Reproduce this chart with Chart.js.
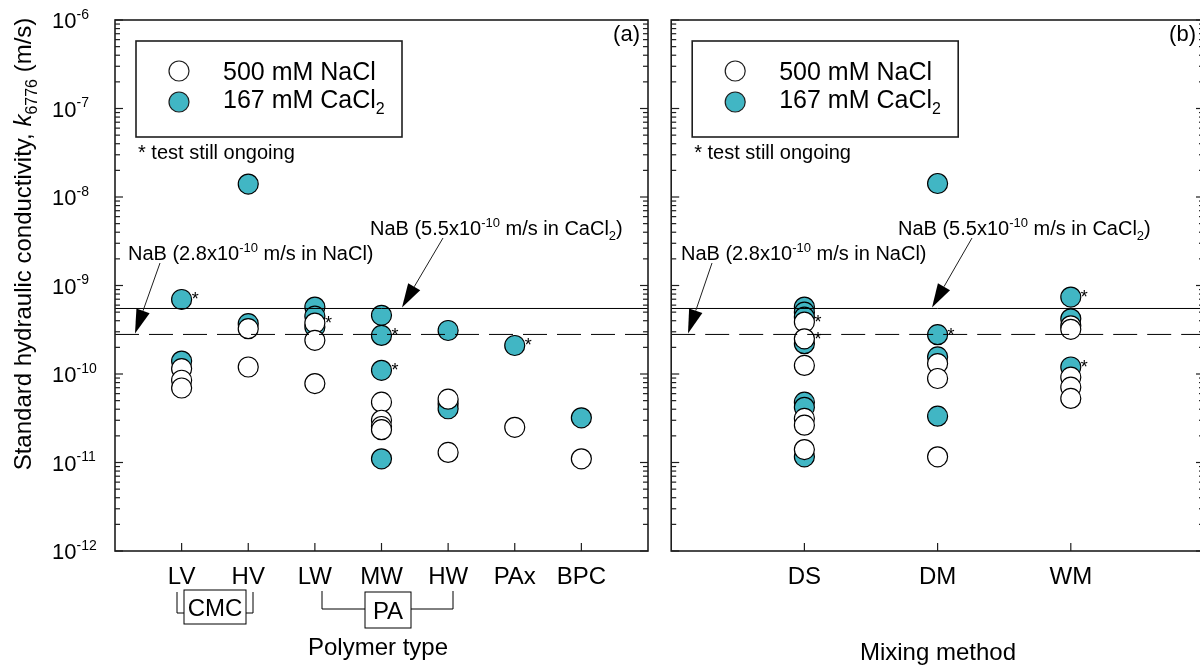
<!DOCTYPE html>
<html lang="en">
<head>
<meta charset="UTF-8">
<title>Standard hydraulic conductivity</title>
<script src="https://cdn.jsdelivr.net/npm/chart.js@4"></script>
<style>
  html, body { margin: 0; padding: 0; background: #fff; width: 1200px; height: 668px; overflow: hidden; }
  canvas { position: absolute; top: 0; }
  #chartA { left: 0; }
  #chartB { left: 660px; }
</style>
</head>
<body>
<canvas id="chartA" width="660" height="668"></canvas>
<canvas id="chartB" width="560" height="668"></canvas>
<script>
// categories
const polymerTypes = ['LV', 'HV', 'LW', 'MW', 'HW', 'PAx', 'BPC'];
const mixingMethods = ['DS', 'DM', 'WM'];

// k6776 in m/s, one list per category
const naclPolymer = [
  [1.15e-10, 8.5e-11, 6.95e-11],
  [3.25e-10, 1.2e-10],
  [3.76e-10, 2.4e-10, 7.8e-11],
  [4.8e-11, 3.0e-11, 2.55e-11, 2.35e-11],
  [5.2e-11, 1.3e-11],
  [2.5e-11],
  [1.1e-11]
];
const caclPolymer = [
  [6.95e-10, 1.4e-10],
  [1.4e-8, 3.7e-10],
  [5.7e-10, 4.5e-10, 3.4e-10],
  [4.6e-10, 2.73e-10, 1.1e-10, 1.1e-11],
  [3.1e-10, 4.6e-11, 4.05e-11],
  [2.1e-10],
  [3.2e-11]
];
const naclMixing = [
  [3.86e-10, 2.5e-10, 1.25e-10, 3.15e-11, 2.64e-11, 1.4e-11],
  [1.31e-10, 8.9e-11, 1.16e-11],
  [3.5e-10, 3.2e-10, 9.2e-11, 7.1e-11, 5.3e-11]
];
const caclMixing = [
  [5.7e-10, 5.0e-10, 4.4e-10, 2.2e-10, 4.8e-11, 4.2e-11, 1.16e-11],
  [1.42e-8, 2.78e-10, 1.56e-10, 3.34e-11],
  [7.4e-10, 4.2e-10, 1.2e-10]
];

// "test still ongoing" markers: [category index, value]
const ongoingPolymer = [[0, 6.95e-10], [2, 3.76e-10], [3, 2.73e-10], [3, 1.1e-10], [5, 2.1e-10]];
const ongoingMixing = [[0, 3.86e-10], [0, 2.5e-10], [1, 2.78e-10], [2, 7.4e-10], [2, 1.2e-10]];

// reference NaB values
const nabNaCl = 2.8e-10;
const nabCaCl2 = 5.5e-10;

const yExponents = [-6, -7, -8, -9, -10, -11, -12];

const CYAN = '#41b6c4';
const FONT = '"Liberation Sans", Arial, Helvetica, sans-serif';

function toPoints(lists) {
  const pts = [];
  lists.forEach((vals, i) => vals.forEach(v => pts.push({ x: i, y: v })));
  return pts;
}

// draw text made of parts [text, mode]; mode '' | 'sup' | 'sub' | 'it'
function richText(ctx, parts, x, y, size, align) {
  const small = Math.round(size * 0.65);
  const fontFor = m => (m === 'sup' || m === 'sub') ? small + 'px ' + FONT
    : (m === 'it' ? 'italic ' + size + 'px ' + FONT : size + 'px ' + FONT);
  let w = 0;
  parts.forEach(([t, m]) => { ctx.font = fontFor(m); w += ctx.measureText(t).width; });
  let cx = align === 'center' ? x - w / 2 : (align === 'right' ? x - w : x);
  ctx.textAlign = 'left';
  ctx.textBaseline = 'alphabetic';
  parts.forEach(([t, m]) => {
    ctx.font = fontFor(m);
    const dy = m === 'sup' ? -size * 0.42 : (m === 'sub' ? size * 0.25 : 0);
    ctx.fillText(t, cx, y + dy);
    cx += ctx.measureText(t).width;
  });
}

function seg(ctx, x1, y1, x2, y2) {
  ctx.beginPath(); ctx.moveTo(x1, y1); ctx.lineTo(x2, y2); ctx.stroke();
}

function arrow(ctx, x1, y1, x2, y2) {
  const ang = Math.atan2(y2 - y1, x2 - x1);
  const len = 24, half = 7;
  const bx = x2 - Math.cos(ang) * len, by = y2 - Math.sin(ang) * len;
  ctx.lineWidth = 1;
  seg(ctx, x1, y1, bx, by);
  ctx.beginPath();
  ctx.moveTo(x2, y2);
  ctx.lineTo(bx + Math.sin(ang) * half, by - Math.cos(ang) * half);
  ctx.lineTo(bx - Math.sin(ang) * half, by + Math.cos(ang) * half);
  ctx.closePath();
  ctx.fill();
}

const panelPlugin = {
  id: 'panelDecor',
  afterDatasetsDraw(chart, args, opts) {
    const { ctx, chartArea: a, scales: { x, y } } = chart;
    ctx.save();
    ctx.fillStyle = '#000';
    ctx.strokeStyle = '#000';

    // NaB reference lines
    ctx.lineWidth = 1;
    let py = y.getPixelForValue(nabCaCl2);
    seg(ctx, a.left, py, a.right, py);
    ctx.setLineDash([24, 10]);
    py = y.getPixelForValue(nabNaCl);
    seg(ctx, a.left, py, a.right, py);
    ctx.setLineDash([]);

    // ongoing asterisks
    ctx.font = '18px ' + FONT;
    ctx.textAlign = 'left';
    ctx.textBaseline = 'alphabetic';
    opts.ongoing.forEach(([c, v]) => {
      ctx.fillText('*', x.getPixelForValue(c) + 10, y.getPixelForValue(v) + 6);
    });

    // frame
    ctx.strokeStyle = '#1e1e1e';
    ctx.lineWidth = 1.6;
    ctx.strokeRect(a.left, a.top, a.right - a.left, a.bottom - a.top);

    // inward log ticks on both sides
    ctx.lineWidth = 1.2;
    for (let e = -12; e <= -6; e++) {
      for (let m = 1; m <= 9; m++) {
        if (e === -6 && m > 1) break;
        const p = y.getPixelForValue(m * Math.pow(10, e));
        const len = m === 1 ? 8 : 5;
        seg(ctx, a.left, p, a.left + len, p);
        seg(ctx, a.right, p, a.right - len, p);
      }
    }
    // x ticks and category labels
    opts.categories.forEach((c, i) => {
      const p = x.getPixelForValue(i);
      seg(ctx, p, a.bottom, p, a.bottom - 8);
      richText(ctx, [[c, '']], p, 584, 24, 'center');
    });

    // y tick labels (left panel only)
    if (opts.yLabels) {
      yExponents.forEach(e => {
        const p = y.getPixelForValue(Math.pow(10, e));
        richText(ctx, [['10', ''], [String(e), 'sup']], 52, p + 8, 22, 'left');
      });
      ctx.save();
      ctx.translate(31, 244);
      ctx.rotate(-Math.PI / 2);
      richText(ctx, [['Standard hydraulic conductivity, ', ''], ['k', 'it'], ['6776', 'sub'], [' (m/s)', '']], 0, 0, 24, 'center');
      ctx.restore();
    }

    // axis title
    richText(ctx, [[opts.title, '']], opts.titleX, opts.titleY, 24, 'center');

    // panel letter
    richText(ctx, [[opts.letter, '']], a.right - 8, a.top + 21, 22, 'right');

    // legend box
    const L = a.left, T = a.top;
    ctx.lineWidth = 1.6;
    ctx.strokeRect(L + 21, T + 21, 266, 96);
    ctx.lineWidth = 1.2;
    ctx.beginPath(); ctx.arc(L + 64, T + 51, 10, 0, Math.PI * 2);
    ctx.fillStyle = '#fff'; ctx.fill(); ctx.stroke();
    ctx.beginPath(); ctx.arc(L + 64, T + 82, 10, 0, Math.PI * 2);
    ctx.fillStyle = CYAN; ctx.fill(); ctx.stroke();
    ctx.fillStyle = '#000';
    richText(ctx, [['500 mM NaCl', '']], L + 108, T + 60, 25, 'left');
    richText(ctx, [['167 mM CaCl', ''], ['2', 'sub']], L + 108, T + 88, 25, 'left');
    richText(ctx, [['* test still ongoing', '']], L + 23, 159, 20, 'left');

    // NaB annotations with arrows
    const yNa = y.getPixelForValue(nabNaCl), yCa = y.getPixelForValue(nabCaCl2);
    richText(ctx, [['NaB (2.8x10', ''], ['-10', 'sup'], [' m/s in NaCl)', '']], opts.naText, 260, 20, 'left');
    arrow(ctx, opts.naTail, 263, opts.naTip, yNa - 1);
    richText(ctx, [['NaB (5.5x10', ''], ['-10', 'sup'], [' m/s in CaCl', ''], ['2', 'sub'], [')', '']], opts.caText, 235, 20, 'left');
    arrow(ctx, opts.caTail, 238, opts.caTip, yCa - 1);

    // group brackets under the categories
    if (opts.groups) {
      ctx.lineWidth = 1;
      ctx.strokeStyle = '#000';
      // CMC
      seg(ctx, 177, 592, 177, 613); seg(ctx, 177, 613, 184, 613);
      seg(ctx, 253, 592, 253, 613); seg(ctx, 253, 613, 246, 613);
      ctx.strokeRect(184, 590, 62, 34);
      richText(ctx, [['CMC', '']], 215, 616, 24, 'center');
      // PA
      seg(ctx, 322, 591, 322, 609); seg(ctx, 322, 609, 365, 609);
      seg(ctx, 453, 591, 453, 609); seg(ctx, 453, 609, 411, 609);
      ctx.strokeRect(365, 592, 46, 36);
      richText(ctx, [['PA', '']], 388, 619, 24, 'center');
    }
    ctx.restore();
  }
};

function makeChart(id, cats, nacl, cacl, padding, decor) {
  return new Chart(document.getElementById(id), {
    type: 'scatter',
    data: {
      datasets: [
        { label: '500 mM NaCl', data: toPoints(nacl), backgroundColor: '#fff' },
        { label: '167 mM CaCl2', data: toPoints(cacl), backgroundColor: CYAN }
      ]
    },
    options: {
      responsive: false,
      animation: false,
      devicePixelRatio: 1,
      layout: { padding: padding },
      elements: {
        point: { radius: 10, hoverRadius: 10, borderWidth: 1.2, borderColor: '#000' }
      },
      scales: {
        x: { type: 'linear', min: -1, max: cats.length, display: false },
        y: { type: 'logarithmic', min: 1e-12, max: 1e-6, display: false }
      },
      plugins: {
        legend: { display: false },
        tooltip: { enabled: false },
        panelDecor: Object.assign({ categories: cats }, decor)
      }
    },
    plugins: [panelPlugin]
  });
}

makeChart('chartA', polymerTypes, naclPolymer, caclPolymer,
  { left: 115, right: 12, top: 20, bottom: 117 },
  { yLabels: true, groups: true, title: 'Polymer type', titleX: 378, titleY: 655, letter: '(a)', ongoing: ongoingPolymer,
    naText: 128, naTail: 160, naTip: 135, caText: 370, caTail: 443, caTip: 402 });

makeChart('chartB', mixingMethods, naclMixing, caclMixing,
  { left: 11, right: 16, top: 20, bottom: 117 },
  { yLabels: false, groups: false, title: 'Mixing method', titleX: 278, titleY: 660, letter: '(b)', ongoing: ongoingMixing,
    naText: 21, naTail: 52, naTip: 28, caText: 238, caTail: 312, caTip: 272 });
</script>
</body>
</html>
